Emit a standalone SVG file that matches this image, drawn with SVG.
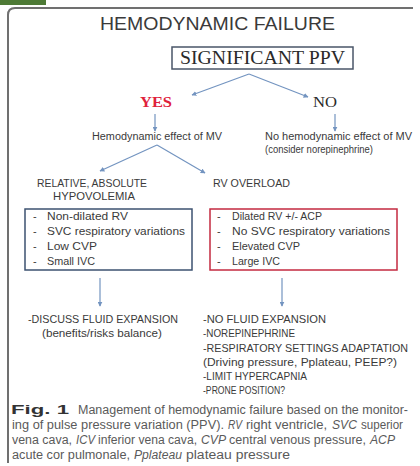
<svg xmlns="http://www.w3.org/2000/svg" width="420" height="466" viewBox="0 0 420 466">
<defs>
<style>
.sans{font-family:"Liberation Sans",Arial,sans-serif;fill:#3a3a3a}
.serif{font-family:"Liberation Serif","Times New Roman",serif;fill:#2a2a2a}
.conn{stroke:#7394c0;stroke-width:1.2;fill:none;marker-end:url(#ah)}
.cap{font-family:"Liberation Sans",Arial,sans-serif;fill:#5a5a5a;font-size:12.5px}
.it{font-style:italic}
</style>
<marker id="ah" viewBox="0 0 8 8" refX="7" refY="4" markerWidth="5" markerHeight="5" orient="auto" markerUnits="userSpaceOnUse">
<path d="M0,0 L8,4 L0,8 z" fill="#7394c0"/>
</marker>
</defs>
<rect width="420" height="466" fill="#ffffff"/>
<rect x="0" y="0" width="46" height="5" fill="#4e7a36"/>
<path d="M8,463 V15 Q8,8 15,8 H413" fill="none" stroke="#707070" stroke-width="2"/>

<g id="title"><text class="sans" x="100" y="30" font-size="17.5" textLength="235" lengthAdjust="spacingAndGlyphs">HEMODYNAMIC FAILURE</text></g>

<g id="ppv">
<rect x="172" y="47" width="181" height="22" fill="#fff" stroke="#4a5668" stroke-width="1.5"/>
<text class="serif" x="180" y="64" font-size="18" textLength="165" lengthAdjust="spacingAndGlyphs">SIGNIFICANT PPV</text>
</g>
<g id="yes"><text x="140" y="107" font-family="'Liberation Serif','Times New Roman',serif" font-weight="bold" font-size="15" fill="#e0213b" textLength="32" lengthAdjust="spacingAndGlyphs">YES</text></g>
<g id="no"><text class="serif" x="313" y="107" font-size="15" textLength="24" lengthAdjust="spacingAndGlyphs">NO</text></g>

<g id="effect"><text class="sans" x="92" y="140" font-size="10" textLength="130" lengthAdjust="spacingAndGlyphs">Hemodynamic effect of MV</text></g>
<g id="noeffect">
<text class="sans" x="265" y="140" font-size="10" textLength="147" lengthAdjust="spacingAndGlyphs">No hemodynamic effect of MV</text>
<text class="sans" x="265" y="153" font-size="10" textLength="108" lengthAdjust="spacingAndGlyphs">(consider norepinephrine)</text>
</g>

<g id="hypovolemia">
<text class="sans" x="37" y="187" font-size="11" textLength="110" lengthAdjust="spacingAndGlyphs">RELATIVE, ABSOLUTE</text>
<text class="sans" x="53" y="200" font-size="11" textLength="82" lengthAdjust="spacingAndGlyphs">HYPOVOLEMIA</text>
</g>
<g id="rvoverload"><text class="sans" x="213" y="187" font-size="11" textLength="77" lengthAdjust="spacingAndGlyphs">RV OVERLOAD</text></g>

<g id="leftbox">
<rect x="25" y="209" width="167" height="61" fill="#fff" stroke="#3d5270" stroke-width="1.5"/>
<g class="sans" font-size="11">
<text x="33" y="220">-</text><text x="47" y="220" textLength="81" lengthAdjust="spacingAndGlyphs">Non-dilated RV</text>
<text x="33" y="235">-</text><text x="47" y="235" textLength="138" lengthAdjust="spacingAndGlyphs">SVC respiratory variations</text>
<text x="33" y="250">-</text><text x="47" y="250" textLength="50" lengthAdjust="spacingAndGlyphs">Low CVP</text>
<text x="33" y="265">-</text><text x="47" y="265" textLength="48" lengthAdjust="spacingAndGlyphs">Small IVC</text>
</g>
</g>

<g id="rightbox">
<rect x="210" y="209" width="187" height="61" fill="#fff" stroke="#c42a40" stroke-width="1.5"/>
<g class="sans" font-size="11">
<text x="217" y="220">-</text><text x="232" y="220" textLength="90" lengthAdjust="spacingAndGlyphs">Dilated RV +/- ACP</text>
<text x="217" y="235">-</text><text x="232" y="235" textLength="158" lengthAdjust="spacingAndGlyphs">No SVC respiratory variations</text>
<text x="217" y="250">-</text><text x="232" y="250" textLength="68" lengthAdjust="spacingAndGlyphs">Elevated CVP</text>
<text x="217" y="265">-</text><text x="232" y="265" textLength="48" lengthAdjust="spacingAndGlyphs">Large IVC</text>
</g>
</g>

<g id="discuss" class="sans" font-size="11">
<text x="28" y="323" textLength="150" lengthAdjust="spacingAndGlyphs">-DISCUSS FLUID EXPANSION</text>
<text x="42" y="337" textLength="120" lengthAdjust="spacingAndGlyphs">(benefits/risks balance)</text>
</g>

<g id="nofluid" class="sans" font-size="11">
<text x="203" y="323" textLength="123" lengthAdjust="spacingAndGlyphs">-NO FLUID EXPANSION</text>
<text x="203" y="337" textLength="92" lengthAdjust="spacingAndGlyphs">-NOREPINEPHRINE</text>
<text x="203" y="352" textLength="205" lengthAdjust="spacingAndGlyphs">-RESPIRATORY SETTINGS ADAPTATION</text>
<text x="203" y="366" textLength="194" lengthAdjust="spacingAndGlyphs">(Driving pressure, Pplateau, PEEP?)</text>
<text x="203" y="380" textLength="104" lengthAdjust="spacingAndGlyphs">-LIMIT HYPERCAPNIA</text>
<text x="203" y="394" textLength="82" lengthAdjust="spacingAndGlyphs">-PRONE POSITION?</text>
</g>

<g id="connectors">
<line class="conn" x1="249" y1="74" x2="192" y2="95"/>
<line class="conn" x1="249" y1="74" x2="308" y2="97"/>
<line class="conn" x1="155" y1="114" x2="155" y2="131"/>
<line class="conn" x1="335" y1="114" x2="335" y2="131"/>
<line class="conn" x1="157" y1="145" x2="100" y2="171"/>
<line class="conn" x1="157" y1="145" x2="205" y2="173"/>
<line class="conn" x1="100" y1="278" x2="100" y2="306"/>
<line class="conn" x1="282" y1="278" x2="282" y2="306"/>
</g>

<g id="caption">
<text x="11" y="414" font-family="'Liberation Sans',Arial,sans-serif" font-weight="bold" font-size="13.5" fill="#333" textLength="58" lengthAdjust="spacingAndGlyphs">Fig. 1</text>
<text class="cap" x="78" y="414" textLength="330" lengthAdjust="spacingAndGlyphs">Management of hemodynamic failure based on the monitor-</text>

<text class="cap" x="12" y="429" textLength="212" lengthAdjust="spacingAndGlyphs">ing of pulse pressure variation (PPV).</text>
<text class="cap it" x="228" y="429" textLength="14" lengthAdjust="spacingAndGlyphs">RV</text>
<text class="cap" x="246" y="429" textLength="81" lengthAdjust="spacingAndGlyphs">right ventricle,</text>
<text class="cap it" x="332" y="429" textLength="25" lengthAdjust="spacingAndGlyphs">SVC</text>
<text class="cap" x="361" y="429" textLength="42" lengthAdjust="spacingAndGlyphs">superior</text>

<text class="cap" x="12" y="444" textLength="60" lengthAdjust="spacingAndGlyphs">vena cava,</text>
<text class="cap it" x="76" y="444" textLength="19" lengthAdjust="spacingAndGlyphs">ICV</text>
<text class="cap" x="98" y="444" textLength="99" lengthAdjust="spacingAndGlyphs">inferior vena cava,</text>
<text class="cap it" x="201" y="444" textLength="25" lengthAdjust="spacingAndGlyphs">CVP</text>
<text class="cap" x="229" y="444" textLength="137" lengthAdjust="spacingAndGlyphs">central venous pressure,</text>
<text class="cap it" x="370" y="444" textLength="25" lengthAdjust="spacingAndGlyphs">ACP</text>

<text class="cap" x="12" y="459" textLength="118" lengthAdjust="spacingAndGlyphs">acute cor pulmonale,</text>
<text class="cap it" x="134" y="459" textLength="48" lengthAdjust="spacingAndGlyphs">Pplateau</text>
<text class="cap" x="186" y="459" textLength="104" lengthAdjust="spacingAndGlyphs">plateau pressure</text>
</g>
</svg>
